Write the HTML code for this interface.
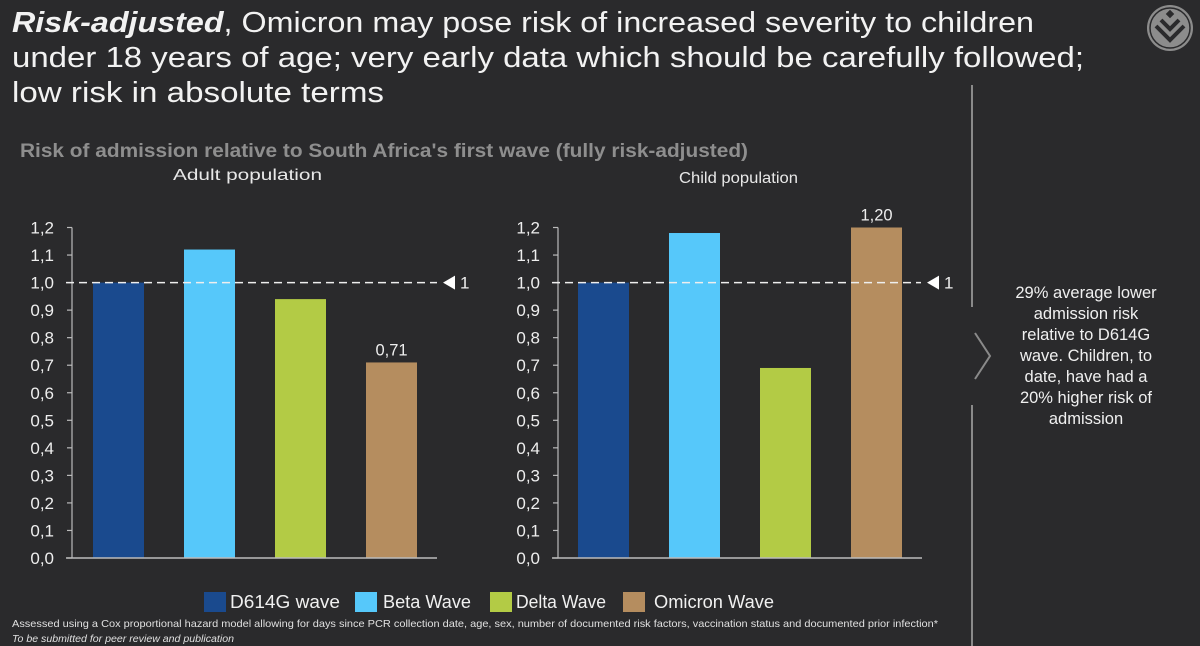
<!DOCTYPE html>
<html><head><meta charset="utf-8">
<style>
body{margin:0;background:#2a2a2c;width:1200px;height:646px;overflow:hidden;font-family:"Liberation Sans",sans-serif;}
</style></head>
<body>
<svg id="s" width="1200" height="646" xmlns="http://www.w3.org/2000/svg" style="position:absolute;left:0;top:0">
<rect width="1200" height="646" fill="#2a2a2c"/>
<text x="12" y="32" font-size="28.5" fill="#f2f2f2" textLength="1022" lengthAdjust="spacingAndGlyphs"><tspan font-weight="bold" font-style="italic">Risk-adjusted</tspan>, Omicron may pose risk of increased severity to children</text>
<text x="12" y="67" font-size="28.5" fill="#f2f2f2" textLength="1072" lengthAdjust="spacingAndGlyphs">under 18 years of age; very early data which should be carefully followed;</text>
<text x="12" y="102" font-size="28.5" fill="#f2f2f2" textLength="372" lengthAdjust="spacingAndGlyphs">low risk in absolute terms</text>
<g>
<circle cx="1170" cy="28" r="23" fill="#8c8c8c"/><circle cx="1170" cy="28" r="20" fill="none" stroke="#2a2a2c" stroke-width="1.5"/>
<polyline points="1156,26 1170,40 1184,26" fill="none" stroke="#2a2a2c" stroke-width="4"/>
<polyline points="1161,20 1170,29 1179,20" fill="none" stroke="#2a2a2c" stroke-width="4"/>
<rect x="1167" y="11" width="6" height="6" transform="rotate(45 1170 14)" fill="#2a2a2c"/>
</g>
<text x="20" y="157" font-size="19.5" font-weight="bold" fill="#8e8e8e" textLength="728" lengthAdjust="spacingAndGlyphs">Risk of admission relative to South Africa's first wave (fully risk-adjusted)</text>
<text x="173" y="180" font-size="15.5" fill="#e8e8e8" textLength="149" lengthAdjust="spacingAndGlyphs">Adult population</text>
<text x="679" y="183" font-size="15.5" fill="#e8e8e8" textLength="119" lengthAdjust="spacingAndGlyphs">Child population</text>
<g id="adult"></g>
<g id="child"></g>
<line x1="972" y1="85" x2="972" y2="307" stroke="#8a8a8a" stroke-width="2"/>
<line x1="972" y1="405" x2="972" y2="646" stroke="#8a8a8a" stroke-width="2"/>
<polyline points="975,333 990,356 975,379" fill="none" stroke="#8a8a8a" stroke-width="2"/>
<g font-size="16.5" fill="#f0f0f0" text-anchor="middle">
<text x="1086" y="298">29% average lower</text>
<text x="1086" y="319">admission risk</text>
<text x="1086" y="340">relative to D614G</text>
<text x="1086" y="361">wave. Children, to</text>
<text x="1086" y="382">date, have had a</text>
<text x="1086" y="403">20% higher risk of</text>
<text x="1086" y="424">admission</text>
</g>
<g id="legend"></g>
<text x="12" y="627" font-size="10.5" fill="#e0e0e0" textLength="926" lengthAdjust="spacingAndGlyphs">Assessed using a Cox proportional hazard model allowing for days since PCR collection date, age, sex, number of documented risk factors, vaccination status and documented prior infection*</text>
<text x="12" y="642" font-size="10" font-style="italic" fill="#e0e0e0" textLength="222" lengthAdjust="spacingAndGlyphs">To be submitted for peer review and publication</text>
</svg>
<script>
const categories=["D614G wave","Beta Wave","Delta Wave","Omicron Wave"];
const adultValues=[1.0,1.12,0.94,0.71];
const childValues=[1.0,1.18,0.69,1.20];
const tickLabels=["0,0","0,1","0,2","0,3","0,4","0,5","0,6","0,7","0,8","0,9","1,0","1,1","1,2"];
const adultLabels=[null,null,null,"0,71"];
const childLabels=[null,null,null,"1,20"];
const colors=["#1a4a8e","#56c8fa","#b3cb45","#b58d5f"];
const NS="http://www.w3.org/2000/svg";
function mk(tag,attrs,parent){const e=document.createElementNS(NS,tag);for(const k in attrs)e.setAttribute(k,attrs[k]);parent.appendChild(e);return e;}
function drawPanel(g,values,labels,axX,x0,x1,barStart,refEnd){
  const yTop=227.5,yBot=558,max=1.2;
  const y=v=>yBot-(v/max)*(yBot-yTop);
  const step=91,bw=51;
  const xb=i=>barStart+i*step;
  values.forEach((v,i)=>{
    const r=mk('rect',{x:xb(i),y:y(v),width:bw,height:yBot-y(v),fill:colors[i]},g);
    
    
    if(labels[i]){const t=mk('text',{x:xb(i)+bw/2,y:y(v)-7,'font-size':16.5,fill:'#eee','text-anchor':'middle'},g);t.textContent=labels[i];
      
      }
  });
  const ax=mk('line',{x1:axX,y1:yTop,x2:axX,y2:yBot,stroke:'#bbb','stroke-width':1.2},g);
  
  
  tickLabels.forEach((lab,i)=>{
    const v=i/10;
    mk('line',{x1:axX-5,y1:y(v),x2:axX,y2:y(v),stroke:'#bbb','stroke-width':1.2},g);
    const t=mk('text',{x:axX-18,y:y(v)+6,'font-size':17,fill:'#eee','text-anchor':'end'},g);t.textContent=lab;
    
    
  });
  const base=mk('line',{x1:x0,y1:yBot,x2:x1,y2:yBot,stroke:'#bbb','stroke-width':1.5},g);
  
  
  const ref=mk('line',{x1:x0,y1:y(1),x2:refEnd,y2:y(1),stroke:'#eee','stroke-width':1.5,'stroke-dasharray':'8,5'},g);
  
  
  const tri=mk('polygon',{points:`${refEnd+6},${y(1)} ${refEnd+18},${y(1)-7} ${refEnd+18},${y(1)+7}`,fill:'#fff'},g);
  
  
  const t1=mk('text',{x:refEnd+23,y:y(1)+6,'font-size':17,fill:'#eee'},g);t1.textContent='1';
  
  
}
drawPanel(document.getElementById('adult'),adultValues,adultLabels,72,66,437,93,437);
drawPanel(document.getElementById('child'),childValues,childLabels,558,552,922,578,921);
const lg=document.getElementById('legend');
const lx=[204,355,490,623];
const tx=[230,383,516,654];
const lw=[110,88,90,120];
categories.forEach((c,i)=>{
  const r=mk('rect',{x:lx[i],y:592,width:22,height:20,fill:colors[i]},lg);
  
  
  const t=mk('text',{x:tx[i],y:608,'font-size':18,fill:'#f0f0f0',textLength:lw[i],lengthAdjust:'spacingAndGlyphs'},lg);t.textContent=c;
  
  
});
</script>
</body></html>
